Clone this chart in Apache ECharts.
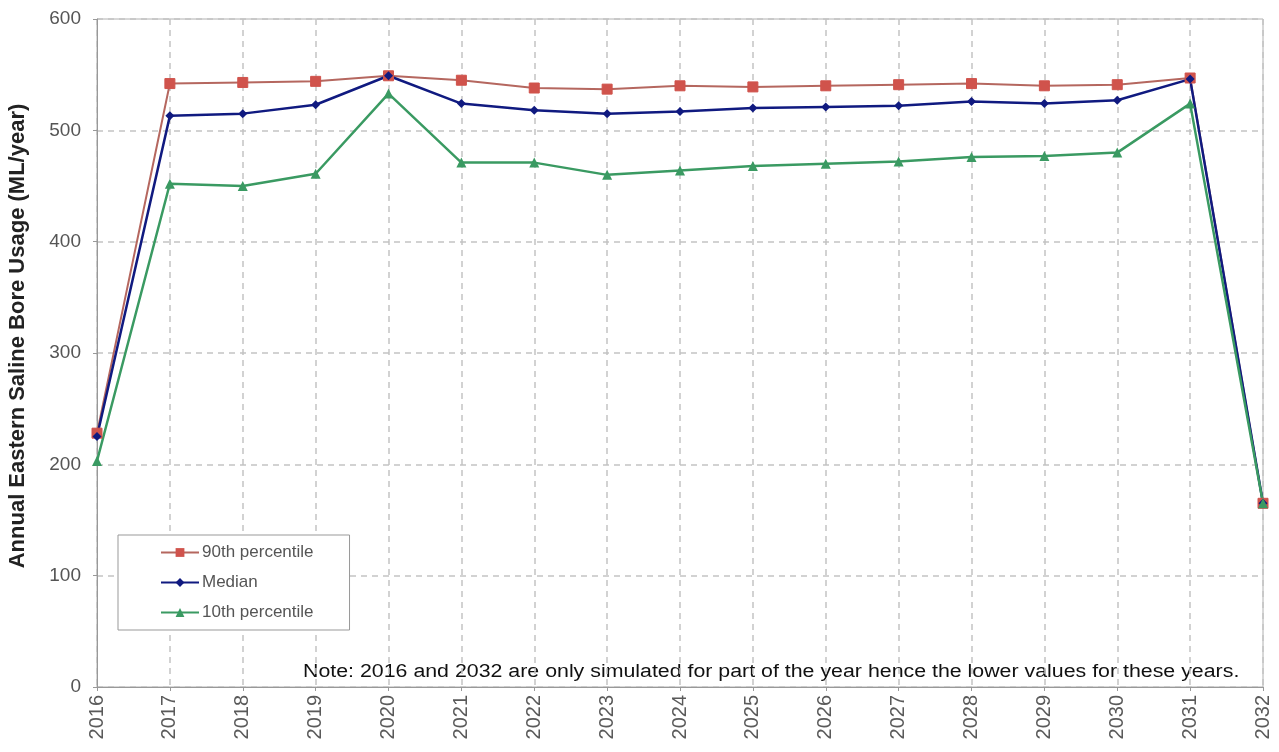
<!DOCTYPE html>
<html>
<head>
<meta charset="utf-8">
<script src="https://cdn.jsdelivr.net/npm/echarts@6/dist/echarts.min.js"></script>
<style>
  html, body { margin: 0; padding: 0; background: #fff; }
  #chart { width: 1279px; height: 752px; }
</style>
</head>
<body>
<div id="chart"></div>
<script>
var years = ['2016','2017','2018','2019','2020','2021','2022','2023','2024','2025','2026','2027','2028','2029','2030','2031','2032'];
var p90 = [228, 542, 543, 544, 549, 545, 538, 537, 540, 539, 540, 541, 542, 540, 541, 547, 165];
var median = [225, 513, 515, 523, 549, 524, 518, 515, 517, 520, 521, 522, 526, 524, 527, 546, 165];
var p10 = [203, 452, 450, 461, 533, 471, 471, 460, 464, 468, 470, 472, 476, 477, 480, 524, 165];
var yTicks = [0, 100, 200, 300, 400, 500, 600];

var myChart = echarts.init(document.getElementById('chart'));

var option = {
  animation: false,
  grid: {
    left: 97, right: 16, top: 19, bottom: 65,
    containLabel: false, outerBoundsMode: 'none',
    show: true, borderColor: '#b0b0b0', borderWidth: 1
  },
  legend: {
    orient: 'vertical',
    left: 118, top: 535,
    padding: [9, 36, 9, 42],
    itemGap: 13,
    itemWidth: 38, itemHeight: 11,
    backgroundColor: '#fff',
    borderColor: '#999', borderWidth: 1,
    textStyle: { fontFamily: 'Liberation Sans', fontSize: 17, color: '#555', padding: [0, 0, 0, -2] },
    data: ['90th percentile', 'Median', '10th percentile']
  },
  xAxis: {
    type: 'category',
    data: years,
    boundaryGap: false,
    axisLine: { lineStyle: { color: '#999' } },
    axisTick: { show: true, length: 4, lineStyle: { color: '#999' } },
    axisLabel: { rotate: 90, fontFamily: 'Liberation Sans', fontSize: 20, color: '#5a5a5a', margin: 8 },
    splitLine: { show: true, lineStyle: { color: '#c4c4c4', type: [6, 5], width: 1.5 } }
  },
  yAxis: {
    type: 'value',
    min: yTicks[0], max: yTicks[yTicks.length - 1], interval: 100,
    name: 'Annual Eastern Saline Bore Usage (ML/year)',
    nameLocation: 'middle', nameGap: 68,
    nameTextStyle: { fontFamily: 'Liberation Sans', fontSize: 22, fontWeight: 'bold', color: '#222', padding: [0, 0, 0, 34] },
    axisLine: { show: true, lineStyle: { color: '#999' } },
    axisTick: { show: true, length: 4, lineStyle: { color: '#999' } },
    axisLabel: { fontFamily: 'Liberation Sans', fontSize: 19, color: '#555', margin: 16 },
    splitLine: { show: true, lineStyle: { color: '#c4c4c4', type: [6, 5], width: 1.5 } }
  },
  series: [
    {
      name: '90th percentile', type: 'line', data: p90,
      symbol: 'rect', symbolSize: 10,
      lineStyle: { color: '#b5675f', width: 2 },
      itemStyle: { color: '#d0534c', borderColor: '#d0534c' }
    },
    {
      name: 'Median', type: 'line', data: median,
      symbol: 'diamond', symbolSize: 9,
      lineStyle: { color: '#101a80', width: 2.5 },
      itemStyle: { color: '#101a80' }
    },
    {
      name: '10th percentile', type: 'line', data: p10,
      symbol: 'triangle', symbolSize: 10,
      lineStyle: { color: '#3a9a62', width: 2.5 },
      itemStyle: { color: '#3a9a62' }
    }
  ],
  graphic: [{
    type: 'text',
    x: 303, y: 672,
    scaleX: 1.186,
    style: {
      text: 'Note: 2016 and 2032 are only simulated for part of the year hence the lower values for these years.',
      fontFamily: 'Liberation Sans', fontSize: 18, fill: '#111',
      verticalAlign: 'middle', align: 'left'
    }
  }]
};

myChart.setOption(option);
window.onresize = myChart.resize;
</script>
</body>
</html>
